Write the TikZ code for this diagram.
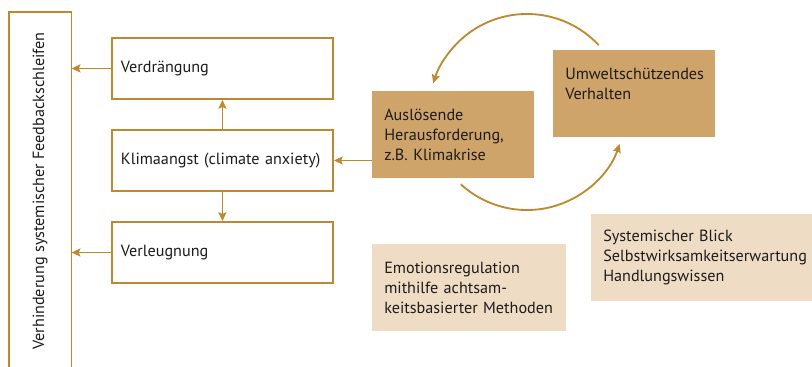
\documentclass[tikz,border=0pt]{standalone}
\usepackage{fontspec}
\setmainfont{PT Sans}
\usepackage{tikz}
\usetikzlibrary{arrows.meta,shapes,positioning,calc}
\definecolor{gold}{RGB}{190,136,48}
\definecolor{sand}{RGB}{206,164,106}
\definecolor{cream}{RGB}{238,221,196}
\definecolor{schrift}{RGB}{30,27,27}
\tikzstyle{kasten} = [rectangle, draw=gold, line width=1.3pt, fill=white, minimum width=5.525cm, minimum height=1.525cm, inner xsep=0.225cm, text width=5.075cm, align=left, anchor=north west]
\tikzstyle{feld} = [rectangle, minimum height=2.175cm, inner xsep=0.3cm, align=left, anchor=north west]
\tikzstyle{pfeil} = [draw=gold, line width=1.3pt, -{Stealth[length=2.2mm, width=2mm, inset=0.4mm]}]

\begin{document}
\begin{tikzpicture}[x=0.025cm, y=-0.025cm, font=\fontsize{11.5}{14.2}\selectfont, text=schrift]
                        \useasboundingbox (0, 0) rectangle (812, 367);
                        % linke Spalte
                        \node [minimum width=1.55cm, minimum height=9.6cm, anchor=north west] (schleife) at (9, 12) {};
                        \draw [gold, line width=1.3pt] (schleife.south west) -- (schleife.north west) -- (schleife.north east) -- (schleife.south east);
                        \node [rotate=90] (schleifetext) at (40, 191) {Verhinderung systemischer Feedbackschleifen};
                        \node [kasten] (verd) at (111, 37) {Verdrängung};
                        \node [kasten, below=0.73cm of verd.south west, anchor=north west] (klima) {Klimaangst (climate anxiety)};
                        \node [kasten, below=0.73cm of klima.south west, anchor=north west] (verl) {Verleugnung};
                        % rechte Seite
                        \node [feld, fill=sand, minimum width=4.05cm, text width=3.45cm] (aus) at (372, 91) {Auslösende\\Herausforderung,\\z.B. Klimakrise};
                        \node [feld, fill=sand, minimum width=4.05cm, text width=3.45cm] (umw) at (553, 50) {Umweltschützendes\\Verhalten\\~};
                        \node [feld, fill=cream, minimum width=4.85cm, text width=4.25cm] (emo) at (372, 244) {Emotionsregulation\\mithilfe achtsam-\\keitsbasierter Methoden};
                        \node [feld, fill=cream, minimum width=5.8cm, text width=5.2cm] (sys) at (591, 214) {Systemischer Blick\\Selbstwirksamkeitserwartung\\Handlungswissen};
                        % Pfeile
                        \draw [pfeil] (verd.west) -- (verd.west -| schleife.east);
                        \draw [pfeil] (verl.west) -- (verl.west -| schleife.east);
                        \draw [pfeil] (klima.north) -- (verd.south);
                        \draw [pfeil] (klima.south) -- (verl.south |- verl.north);
                        \draw [pfeil] (aus.west |- klima.east) -- (klima.east);
                        % Kreislauf
                        \coordinate (kreis) at (527, 112);
                        \draw [pfeil] ($(kreis) + (43:2.45cm)$) arc [start angle=43, end angle=163, radius=2.45cm];
                        \draw [pfeil] ($(kreis) + (227.5:2.45cm)$) arc [start angle=227.5, end angle=341, radius=2.45cm];
                    \end{tikzpicture}
\end{document}
